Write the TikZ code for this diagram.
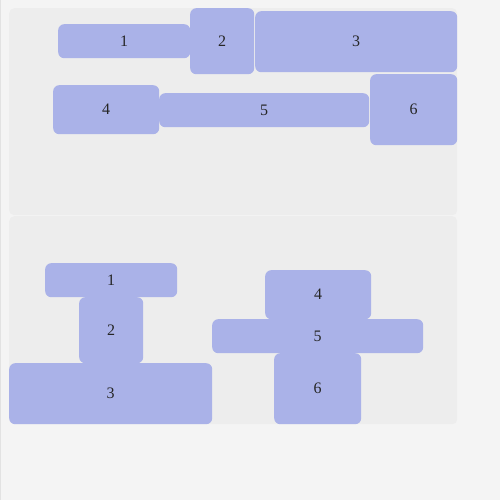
\documentclass[tikz,border=0pt]{standalone}
\usepackage{fontspec}
\setmainfont{Liberation Serif}
\definecolor{pagebg}{HTML}{F4F4F4}
\definecolor{panelbg}{HTML}{EDEDED}
\definecolor{edgeln}{HTML}{E2E2E2}
\definecolor{blkfill}{HTML}{AAB2E8}
\tikzset{
	panel/.style={fill=panelbg, rounded corners=5pt, inner sep=0pt, anchor=north west},
	blk/.style={fill=blkfill, rounded corners=6pt, inner sep=0pt, anchor=north west, font=\fontsize{16}{18}\selectfont, text=black!85}
}
\begin{document}
\begin{tikzpicture}[x=1pt,y=-1pt]
	\fill [pagebg] (0,0) rectangle (500,500);
	\useasboundingbox (0,0) rectangle (500,500);
	\draw [edgeln, line width=1pt] (0.5,0) -- (0.5,500);
	% upper panel
	\node [panel, minimum width=448pt, minimum height=207pt] (top) at (9,8) {};
	\node [blk, minimum width=132pt, minimum height=34pt] (a1) at (58,24) {1};
	\node [blk, minimum width=64pt, minimum height=66pt] (a2) at (190,8) {2};
	\node [blk, minimum width=202pt, minimum height=61pt] (a3) at (255,11) {3};
	\node [blk, minimum width=106pt, minimum height=49pt] (a4) at (53,85) {4};
	\node [blk, minimum width=210pt, minimum height=34pt] (a5) at (159,93) {5};
	\node [blk, minimum width=87pt, minimum height=71pt] (a6) at (370,74) {6};
	% lower panel
	\node [panel, minimum width=448pt, minimum height=208pt] (bot) at (9,216) {};
	\node [blk, minimum width=132pt, minimum height=34pt] (b1) at (45,263) {1};
	\node [blk, minimum width=64pt, minimum height=66pt] (b2) at (79,297) {2};
	\node [blk, minimum width=203pt, minimum height=61pt] (b3) at (9,363) {3};
	\node [blk, minimum width=106pt, minimum height=49pt] (b4) at (265,270) {4};
	\node [blk, minimum width=211pt, minimum height=34pt] (b5) at (212,319) {5};
	\node [blk, minimum width=87pt, minimum height=71pt] (b6) at (274,353) {6};
\end{tikzpicture}
\end{document}
